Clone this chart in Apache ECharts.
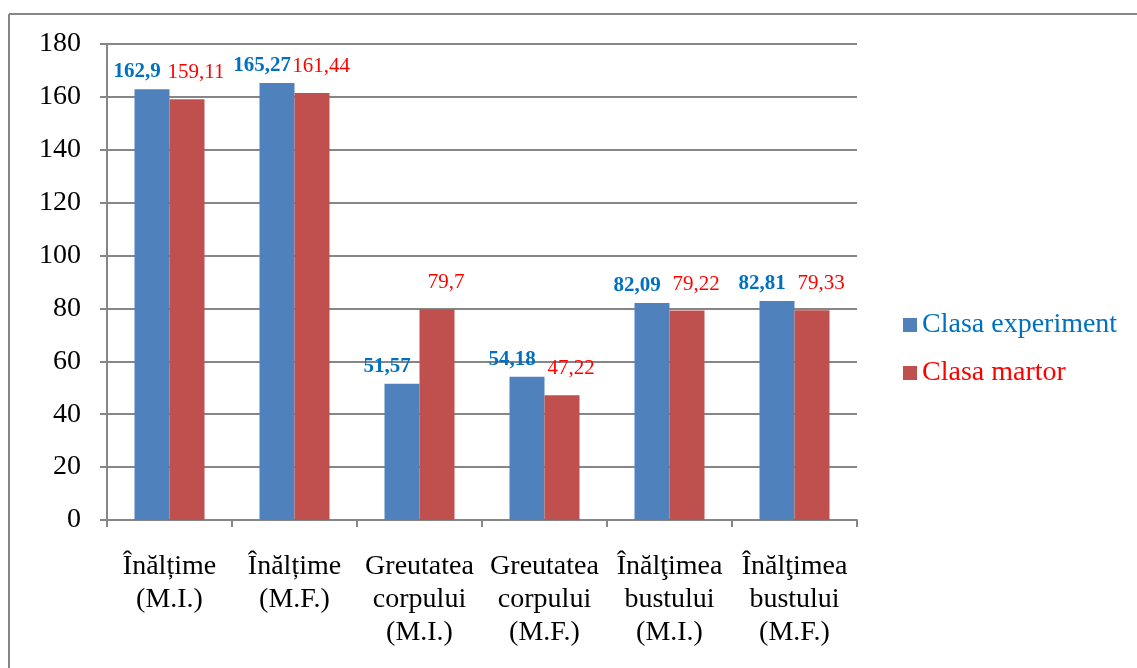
<!DOCTYPE html>
<html>
<head>
<meta charset="utf-8">
<title>Clasa experiment vs. Clasa martor</title>
<script src="https://cdn.jsdelivr.net/npm/echarts@6/dist/echarts.min.js"></script>
<style>
  html, body { margin: 0; padding: 0; background: #ffffff; }
  #chart { width: 1137px; height: 668px; }
</style>
</head>
<body>
<div id="chart"></div>
<script>
// Indicatori antropometrici: măsurători inițiale (M.I.) și finale (M.F.)
const categories = [
  'Înălțime\n(M.I.)',
  'Înălțime\n(M.F.)',
  'Greutatea\ncorpului\n(M.I.)',
  'Greutatea\ncorpului\n(M.F.)',
  'Înălţimea\nbustului\n(M.I.)',
  'Înălţimea\nbustului\n(M.F.)'
];
const seriesNames = ['Clasa experiment', 'Clasa martor'];
const experimentValues = [162.9, 165.27, 51.57, 54.18, 82.09, 82.81];
const martorValues = [159.11, 161.44, 79.7, 47.22, 79.22, 79.33];
const yTicks = [0, 20, 40, 60, 80, 100, 120, 140, 160, 180];

const FONT = '"Liberation Serif", "Times New Roman", serif';
const GRAY = '#868686';
const BLUE_BAR = '#4F81BD';
const RED_BAR = '#C0504D';
const BLUE_TEXT = '#0070C0';
const RED_TEXT = '#FF0000';

const fmt = (p) => String(p.value).replace('.', ',');

const chart = echarts.init(document.getElementById('chart'), null, { renderer: 'canvas' });

chart.setOption({
  backgroundColor: '#ffffff',
  animation: false,
  graphic: [
    // chenarul exterior (sus și stânga)
    { type: 'line', shape: { x1: 9, y1: 14, x2: 1137, y2: 14 }, style: { stroke: GRAY, lineWidth: 2 } },
    { type: 'line', shape: { x1: 9, y1: 14, x2: 9, y2: 668 }, style: { stroke: GRAY, lineWidth: 2 } }
  ],
  grid: { left: 107, right: 280, top: 44, bottom: 148, containLabel: false },
  legend: {
    orient: 'vertical',
    left: 898,
    top: 306,
    itemWidth: 14,
    itemHeight: 14,
    itemGap: 20,
    icon: 'rect',
    textStyle: { fontFamily: FONT, fontSize: 28 },
    data: [
      { name: seriesNames[0], textStyle: { color: BLUE_TEXT } },
      { name: seriesNames[1], textStyle: { color: RED_TEXT } }
    ]
  },
  xAxis: {
    type: 'category',
    data: categories,
    axisLine: { lineStyle: { color: GRAY, width: 2 } },
    axisTick: { show: true, length: 7, lineStyle: { color: GRAY, width: 2 } },
    axisLabel: {
      fontFamily: FONT,
      fontSize: 28,
      lineHeight: 33,
      color: '#000000',
      margin: 30,
      interval: 0
    }
  },
  yAxis: {
    type: 'value',
    min: yTicks[0],
    max: yTicks[yTicks.length - 1],
    interval: yTicks[1] - yTicks[0],
    axisLine: { show: true, lineStyle: { color: GRAY, width: 2 } },
    axisTick: { show: true, length: 7, lineStyle: { color: GRAY, width: 2 } },
    splitLine: { show: true, lineStyle: { color: GRAY, width: 2 } },
    axisLabel: {
      fontFamily: FONT,
      fontSize: 28,
      color: '#000000',
      margin: 26
    }
  },
  series: [
    {
      name: seriesNames[0],
      type: 'bar',
      data: experimentValues,
      barWidth: '28%',
      barGap: '0%',
      itemStyle: { color: BLUE_BAR },
      label: {
        show: true,
        position: 'top',
        distance: 7,
        offset: [-15, 0],
        formatter: fmt,
        fontFamily: FONT,
        fontSize: 21,
        fontWeight: 'bold',
        color: BLUE_TEXT
      }
    },
    {
      name: seriesNames[1],
      type: 'bar',
      data: martorValues,
      barWidth: '28%',
      barGap: '0%',
      itemStyle: { color: RED_BAR },
      label: {
        show: true,
        position: 'top',
        distance: 6,
        offset: [9, -10],
        formatter: fmt,
        fontFamily: FONT,
        fontSize: 21,
        color: RED_TEXT
      }
    }
  ]
});
</script>
</body>
</html>
